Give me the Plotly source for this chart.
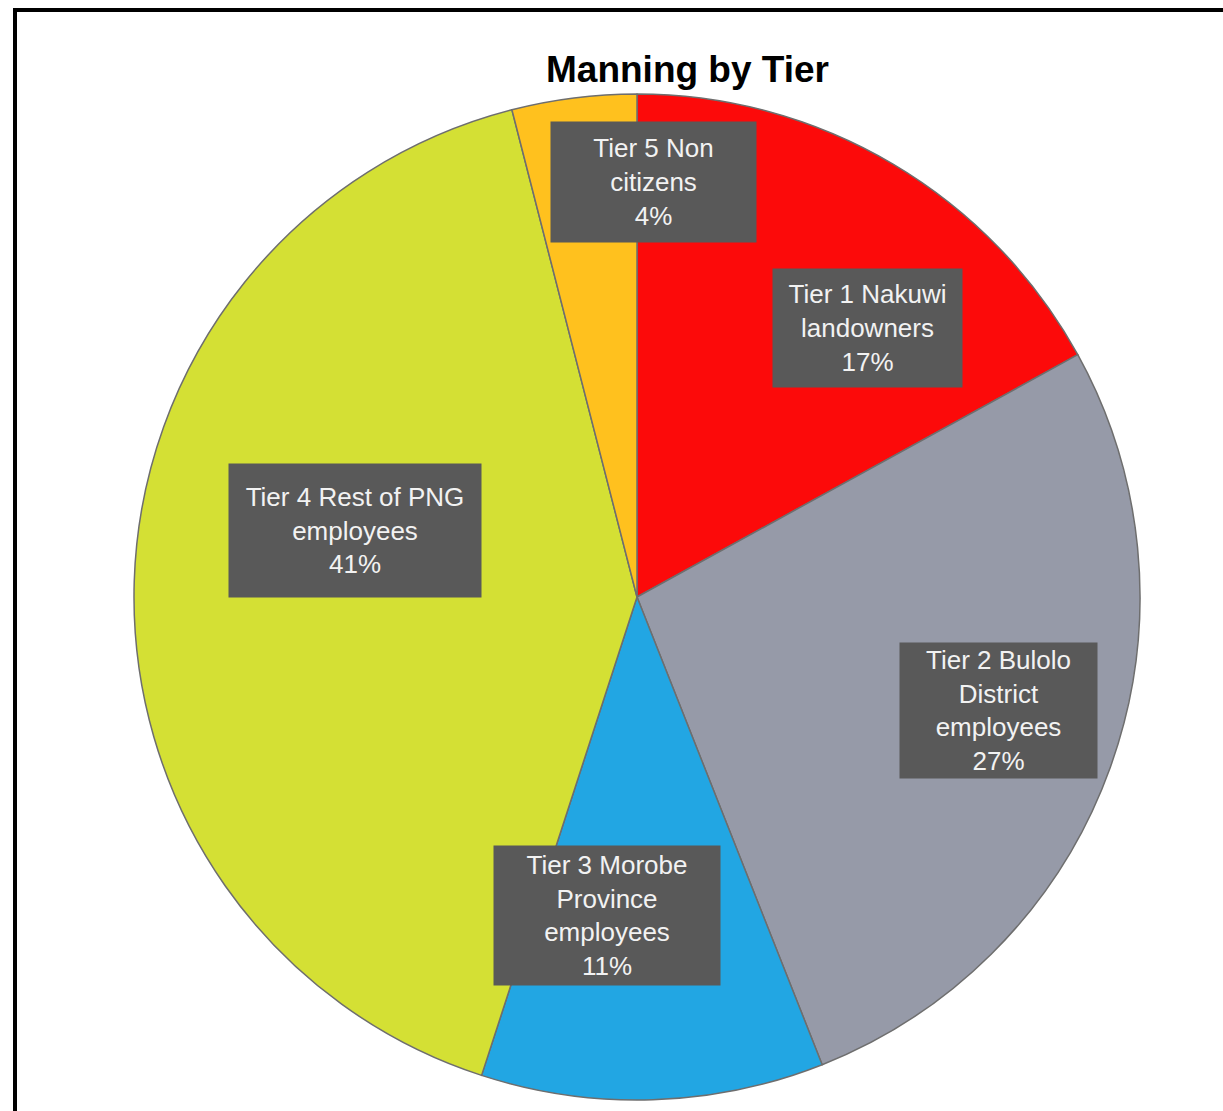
import plotly.graph_objects as go

W, H = 1223, 1111

labels = ["Tier 1 Nakuwi landowners", "Tier 2 Bulolo District employees",
          "Tier 3 Morobe Province employees", "Tier 4 Rest of PNG employees",
          "Tier 5 Non citizens"]
values = [17, 27, 11, 41, 4]
box_text = ["Tier 1 Nakuwi<br>landowners", "Tier 2 Bulolo<br>District<br>employees",
            "Tier 3 Morobe<br>Province<br>employees", "Tier 4 Rest of PNG<br>employees",
            "Tier 5 Non<br>citizens"]
colors = ["#FC0A0A", "#969AA8", "#22A6E3", "#D4E034", "#FFC11E"]

# label box placement (pixel centre, width, height)
box_pos = [(867.5, 328, 189, 118), (998.5, 710.5, 197, 135), (607, 915.5, 226, 139),
           (355, 530.5, 252, 133), (653.5, 182, 205, 120)]

total = sum(values)

fig = go.Figure(go.Pie(
    labels=labels, values=values, sort=False, direction="clockwise", rotation=0,
    marker=dict(colors=colors, line=dict(color="#6E6E6E", width=1.5)),
    textinfo="none", hoverinfo="label+percent", showlegend=False,
    domain=dict(x=[134 / W, 1140 / W], y=[1 - 1100 / H, 1 - 94 / H]),
))

annotations = [dict(text="<b>Manning by Tier</b>", x=687.5 / W, y=1 - 70 / H,
                    xref="paper", yref="paper", xanchor="center", yanchor="middle",
                    showarrow=False,
                    font=dict(family="Liberation Sans", size=37, color="#000000"))]
for t, v, (cx, cy, bw, bh) in zip(box_text, values, box_pos):
    pct = round(100 * v / total)
    annotations.append(dict(
        text=f"{t}<br>{pct}%", x=cx / W, y=1 - cy / H, xref="paper", yref="paper",
        xanchor="center", yanchor="middle", showarrow=False, width=bw, height=bh,
        borderpad=0, bgcolor="#595959", align="center", valign="middle",
        font=dict(family="Liberation Sans", size=26, color="#F2F2F2")))

fig.update_layout(
    width=W, height=H, margin=dict(l=0, r=0, t=0, b=0),
    paper_bgcolor="white", plot_bgcolor="white",
    annotations=annotations,
    shapes=[dict(type="rect", xref="paper", yref="paper",
                 x0=15 / W, x1=1.05, y0=-0.05, y1=1 - 10 / H,
                 line=dict(color="#000000", width=4))],
)

fig.write_html("out.html")
